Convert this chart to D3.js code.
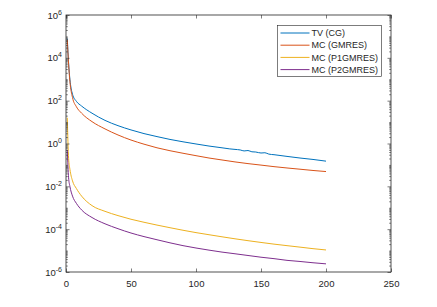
<!DOCTYPE html>
<html>
<head>
<meta charset="utf-8">
<script src="https://cdn.jsdelivr.net/npm/d3@7"></script>
<style>
  body { margin: 0; background: #fff; }
  text { font-family: "Liberation Sans", Arial, sans-serif; fill: #262626; }
</style>
</head>
<body>
<div id="chart"></div>
<script>
// iteration numbers and residuals
const iters = [1, 2, 3, 5, 8, 12, 20, 30, 40, 50, 60, 70, 80, 90, 100, 110, 120, 130, 140, 150, 160, 170, 180, 190, 200];
const itersTV = [1, 2, 3, 5, 8, 12, 20, 30, 40, 50, 60, 70, 80, 90, 100, 110, 120, 126, 130, 134, 137, 140, 143, 146, 150, 153, 156, 160, 170, 180, 190, 200];

const tvCG = [7.9e4, 5.6e3, 1.0e3, 200, 93, 56, 26, 12, 6.8, 4.3, 2.9, 2.1, 1.55, 1.2, 0.95, 0.76, 0.63,
  0.56, 0.53, 0.5, 0.45, 0.47, 0.41, 0.4, 0.36, 0.37, 0.32, 0.3, 0.25, 0.21, 0.18, 0.15];
const mcGMRES = [7.1e4, 5.0e3, 790, 140, 52, 26, 10.5, 4.8, 2.5, 1.45, 0.93, 0.63, 0.46, 0.35, 0.27,
  0.21, 0.17, 0.138, 0.115, 0.098, 0.083, 0.072, 0.063, 0.055, 0.049];
const mcP1 = [16, 0.2, 0.063, 0.018, 7.9e-3, 3.5e-3, 1.26e-3, 6.8e-4, 4.3e-4, 2.9e-4, 2.1e-4, 1.55e-4,
  1.17e-4, 8.9e-5, 6.9e-5, 5.5e-5, 4.4e-5, 3.55e-5, 2.9e-5, 2.4e-5, 2.0e-5, 1.7e-5, 1.45e-5, 1.23e-5, 1.07e-5];
const mcP2 = [0.5, 0.025, 0.01, 3.5e-3, 1.6e-3, 7.9e-4, 3.5e-4, 1.78e-4, 1.05e-4, 6.6e-5, 4.5e-5, 3.2e-5,
  2.3e-5, 1.7e-5, 1.32e-5, 1.05e-5, 8.5e-6, 7.1e-6, 5.9e-6, 4.9e-6, 4.2e-6, 3.5e-6, 3.1e-6, 2.7e-6, 2.4e-6];

const names = ['TV (CG)', 'MC (GMRES)', 'MC (P1GMRES)', 'MC (P2GMRES)'];
const colors = ['#0072BD', '#D95319', '#EDB120', '#7E2F8E'];
const xTicks = [0, 50, 100, 150, 200, 250];
const yExps = [-6, -4, -2, 0, 2, 4, 6];

const width = 437, height = 307;
const margin = {top: 15, right: 46, bottom: 35, left: 66};
const innerW = width - margin.left - margin.right;
const innerH = height - margin.top - margin.bottom;
const axisColor = '#262626';

const svg = d3.select('#chart')
  .append('svg')
    .attr('width', width)
    .attr('height', height);

svg.append('rect').attr('width', width).attr('height', height).attr('fill', '#fff');

const g = svg.append('g')
  .attr('transform', 'translate(' + margin.left + ',' + margin.top + ')');

const x = d3.scaleLinear().domain([0, 250]).range([0, innerW]);
const y = d3.scaleLog().domain([1e-6, 1e6]).range([innerH, 0]);

// minor ticks: every k*10^e that is not a labelled decade
const minor = [];
for (let e = -6; e < 6; e++) {
  for (let k = 1; k < 10; k++) {
    const v = k * Math.pow(10, e);
    if (k === 1 && e % 2 === 0) continue;
    minor.push(v);
  }
}
const major = yExps.map(e => Math.pow(10, e));

function styleAxis(sel) {
  sel.select('.domain').remove();
  sel.selectAll('line').attr('stroke', axisColor).attr('stroke-width', 0.6);
}

// series
const series = [
  {xs: itersTV, ys: tvCG},
  {xs: iters, ys: mcGMRES},
  {xs: iters, ys: mcP1},
  {xs: iters, ys: mcP2}
];
const line = d3.line()
  .x(d => x(d[0]))
  .y(d => y(d[1]))
  .curve(d3.curveMonotoneX);

series.forEach((s, i) => {
  g.append('path')
    .datum(s.xs.map((v, j) => [v, s.ys[j]]))
    .attr('fill', 'none')
    .attr('stroke', colors[i])
    .attr('stroke-width', 1)
    .attr('d', line);
});

// x axes (bottom labelled, top plain), ticks pointing inward
g.append('g')
  .attr('transform', 'translate(0,' + innerH + ')')
  .call(d3.axisBottom(x).tickValues(xTicks).tickSize(-3.5).tickPadding(8))
  .call(styleAxis)
  .selectAll('text').attr('font-size', 9.5).attr('fill', axisColor);
g.append('g')
  .call(d3.axisTop(x).tickValues(xTicks).tickSize(-3.5).tickFormat(''))
  .call(styleAxis);

// y axes: minor and major ticks on both sides
g.append('g').call(d3.axisLeft(y).tickValues(minor).tickSize(-1.8).tickFormat('')).call(styleAxis);
g.append('g').attr('transform', 'translate(' + innerW + ',0)')
  .call(d3.axisRight(y).tickValues(minor).tickSize(-1.8).tickFormat('')).call(styleAxis);
g.append('g').attr('transform', 'translate(' + innerW + ',0)')
  .call(d3.axisRight(y).tickValues(major).tickSize(-3.5).tickFormat('')).call(styleAxis);
const yAxis = g.append('g')
  .call(d3.axisLeft(y).tickValues(major).tickSize(-3.5).tickFormat(''))
  .call(styleAxis);

// labels as 10 with a superscript exponent
yAxis.selectAll('.tick').append('text')
  .attr('x', -4)
  .attr('dy', '0.32em')
  .attr('text-anchor', 'end')
  .attr('font-size', 9.5)
  .attr('fill', axisColor)
  .each(function(d) {
    const t = d3.select(this);
    t.append('tspan').text('10');
    t.append('tspan').attr('dy', -4).attr('font-size', 7).text(Math.round(Math.log10(d)));
  });

// box
g.append('rect')
  .attr('width', innerW)
  .attr('height', innerH)
  .attr('fill', 'none')
  .attr('stroke', axisColor)
  .attr('stroke-width', 0.8);

// legend
const lg = svg.append('g').attr('transform', 'translate(277.5,25.5)');
lg.append('rect')
  .attr('width', 104)
  .attr('height', 51)
  .attr('fill', '#fff')
  .attr('stroke', axisColor)
  .attr('stroke-width', 0.6);
names.forEach((n, i) => {
  const yy = 7.5 + i * 12.2;
  lg.append('line')
    .attr('x1', 3).attr('x2', 32)
    .attr('y1', yy).attr('y2', yy)
    .attr('stroke', colors[i])
    .attr('stroke-width', 1);
  lg.append('text')
    .attr('x', 34)
    .attr('y', yy)
    .attr('dy', '0.35em')
    .attr('font-size', 9)
    .text(n);
});
</script>
</body>
</html>
